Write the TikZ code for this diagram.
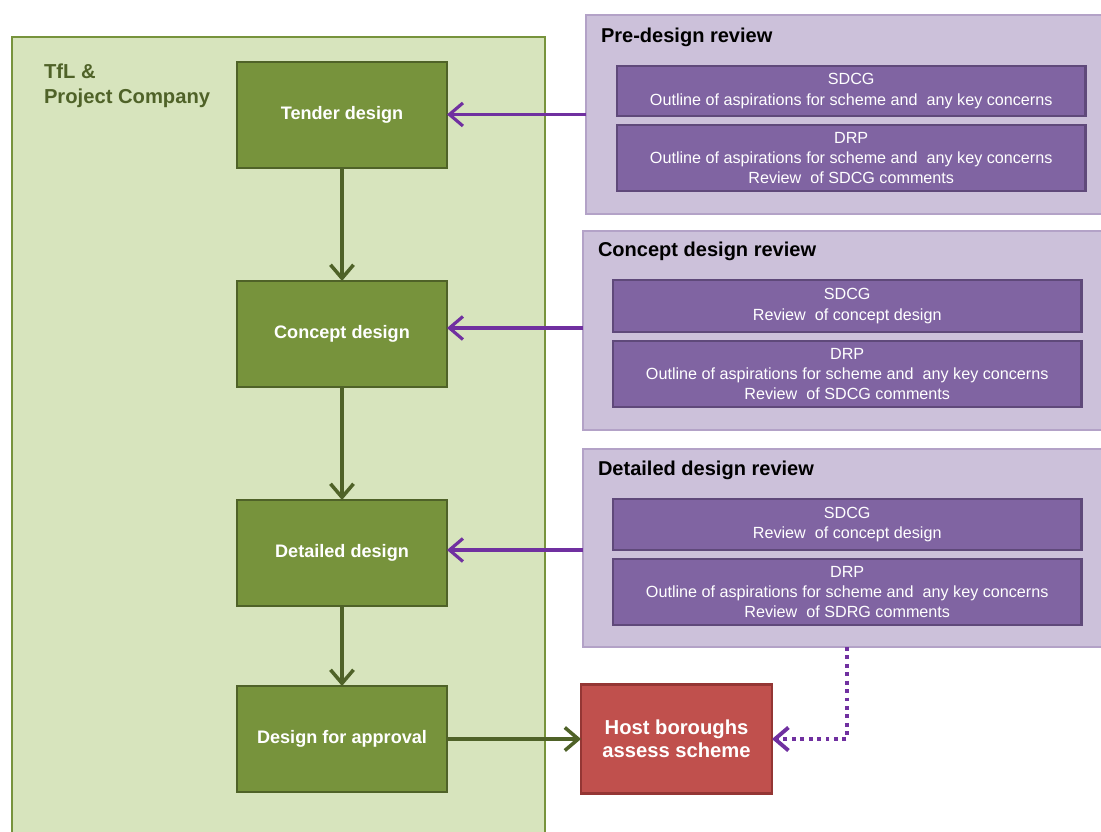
\documentclass[tikz,border=0pt]{standalone}
\usepackage{fontspec}
\setmainfont{Liberation Sans}
\usetikzlibrary{positioning, arrows.meta, calc}

\definecolor{tflfill}{HTML}{D7E4BD}
\definecolor{tfldraw}{HTML}{77933C}
\definecolor{stagefill}{HTML}{77933C}
\definecolor{stagedraw}{HTML}{4F6228}
\definecolor{revfill}{HTML}{CCC1DA}
\definecolor{revdraw}{HTML}{B3A2C7}
\definecolor{panelfill}{HTML}{8064A2}
\definecolor{paneldraw}{HTML}{5F497A}
\definecolor{arrowpurple}{HTML}{7030A0}
\definecolor{hostfill}{HTML}{C0504D}
\definecolor{hostdraw}{HTML}{943634}

\begin{document}
\begin{tikzpicture}[
  x=0.02cm, y=-0.02cm,
  every node/.style={inner sep=0pt, outer sep=0pt},
  stagebox/.style={draw=stagedraw, fill=stagefill, line width=1.4pt,
               minimum width=4.2cm, minimum height=2.12cm, align=center,
               text=white, font=\fontsize{10.3}{12}\selectfont\bfseries},
  reviewbox/.style={draw=revdraw, fill=revfill, line width=1.1pt,
               anchor=north west, minimum width=10.5cm, minimum height=3.98cm},
  reviewtitle/.style={anchor=west, font=\fontsize{11.4}{13}\selectfont\bfseries},
  panelbox/.style={draw=paneldraw, fill=panelfill, line width=1.3pt,
               anchor=north west, minimum width=9.37cm, align=center,
               text=white, font=\fontsize{9.2}{11.6}\selectfont},
  stagearrow/.style={-{Straight Barb[length=2.7mm, width=4.6mm]},
               line width=2pt, stagedraw},
  reviewarrow/.style={-{Straight Barb[length=2.7mm, width=4.6mm]},
               line width=1.8pt, arrowpurple}
]
\useasboundingbox (0,0) rectangle (1101,831);

% ---- TfL container ----
\node[draw=tfldraw, fill=tflfill, line width=1.4pt, anchor=north west,
      minimum width=10.66cm, minimum height=16.3cm] (tfl) at (12,37) {};
\node[anchor=north west, align=left, text=stagedraw,
      font=\fontsize{11.5}{14.3}\selectfont\bfseries] (tfltitle) at (44,64)
  {TfL \&\\Project Company};

% ---- Design stages ----
\node[stagebox] (tender) at (342,115) {Tender design};
\node[stagebox] (concept) at (342,334) {Concept design};
\node[stagebox] (detailed) at (342,553) {Detailed design};
\node[stagebox] (approval) at (342,739) {Design for approval};

% ---- Pre-design review ----
\node[reviewbox, minimum width=10.44cm] (prerev) at (586,15) {};
\node[reviewtitle] (pretitle) at (601,37) {Pre-design review};
\node[panelbox, minimum height=1cm] (presdcg) at (617,66)
  {SDCG\\Outline of aspirations for scheme and~ any key concerns};
\node[panelbox, minimum height=1.32cm] (predrp) at (617,125)
  {DRP\\Outline of aspirations for scheme and~ any key concerns\\
   Review~ of SDCG comments};

% ---- Concept design review ----
\node[reviewbox] (conrev) at (583,231) {};
\node[reviewtitle] (contitle) at (598,251) {Concept design review};
\node[panelbox, minimum height=1.04cm] (consdcg) at (613,280)
  {SDCG\\Review~ of concept design};
\node[panelbox, minimum height=1.32cm] (condrp) at (613,341)
  {DRP\\Outline of aspirations for scheme and~ any key concerns\\
   Review~ of SDCG comments};

% ---- Detailed design review ----
\node[reviewbox, minimum height=3.96cm] (detrev) at (583,449) {};
\node[reviewtitle] (dettitle) at (598,470) {Detailed design review};
\node[panelbox, minimum height=1.02cm] (detsdcg) at (613,499)
  {SDCG\\Review~ of concept design};
\node[panelbox, minimum height=1.32cm] (detdrp) at (613,559)
  {DRP\\Outline of aspirations for scheme and~ any key concerns\\
   Review~ of SDRG comments};

% ---- Host boroughs ----
\node[draw=hostdraw, fill=hostfill, line width=1.4pt, minimum width=3.82cm,
      minimum height=2.18cm, align=center, text=white,
      font=\fontsize{11.5}{13.2}\selectfont\bfseries] (host) at (676.5,739)
  {Host boroughs\\assess scheme};

% ---- Arrows ----
\coordinate (conin) at ($(conrev.north west)+(0,97)$);
\coordinate (detin) at ($(detrev.north west)+(0,101)$);
\draw[stagearrow] (tender.south) -- (concept.north);
\draw[stagearrow] (concept.south) -- (detailed.north);
\draw[stagearrow] (detailed.south) -- (approval.north);
\draw[stagearrow] (approval.east) -- (host.west);
\draw[reviewarrow] (prerev.west) -- (prerev.west -| tender.east);
\draw[reviewarrow] (conin) -- (conin -| concept.east);
\draw[reviewarrow] (detin) -- (detin -| detailed.east);

% ---- Dotted link ----
\coordinate (dotbend) at (847,739);
\draw[reviewarrow, line width=2.2pt, dash pattern=on 2.2pt off 2.6pt]
  (detrev.south -| dotbend) -- (dotbend) -- (host.east);

\end{tikzpicture}
\end{document}
